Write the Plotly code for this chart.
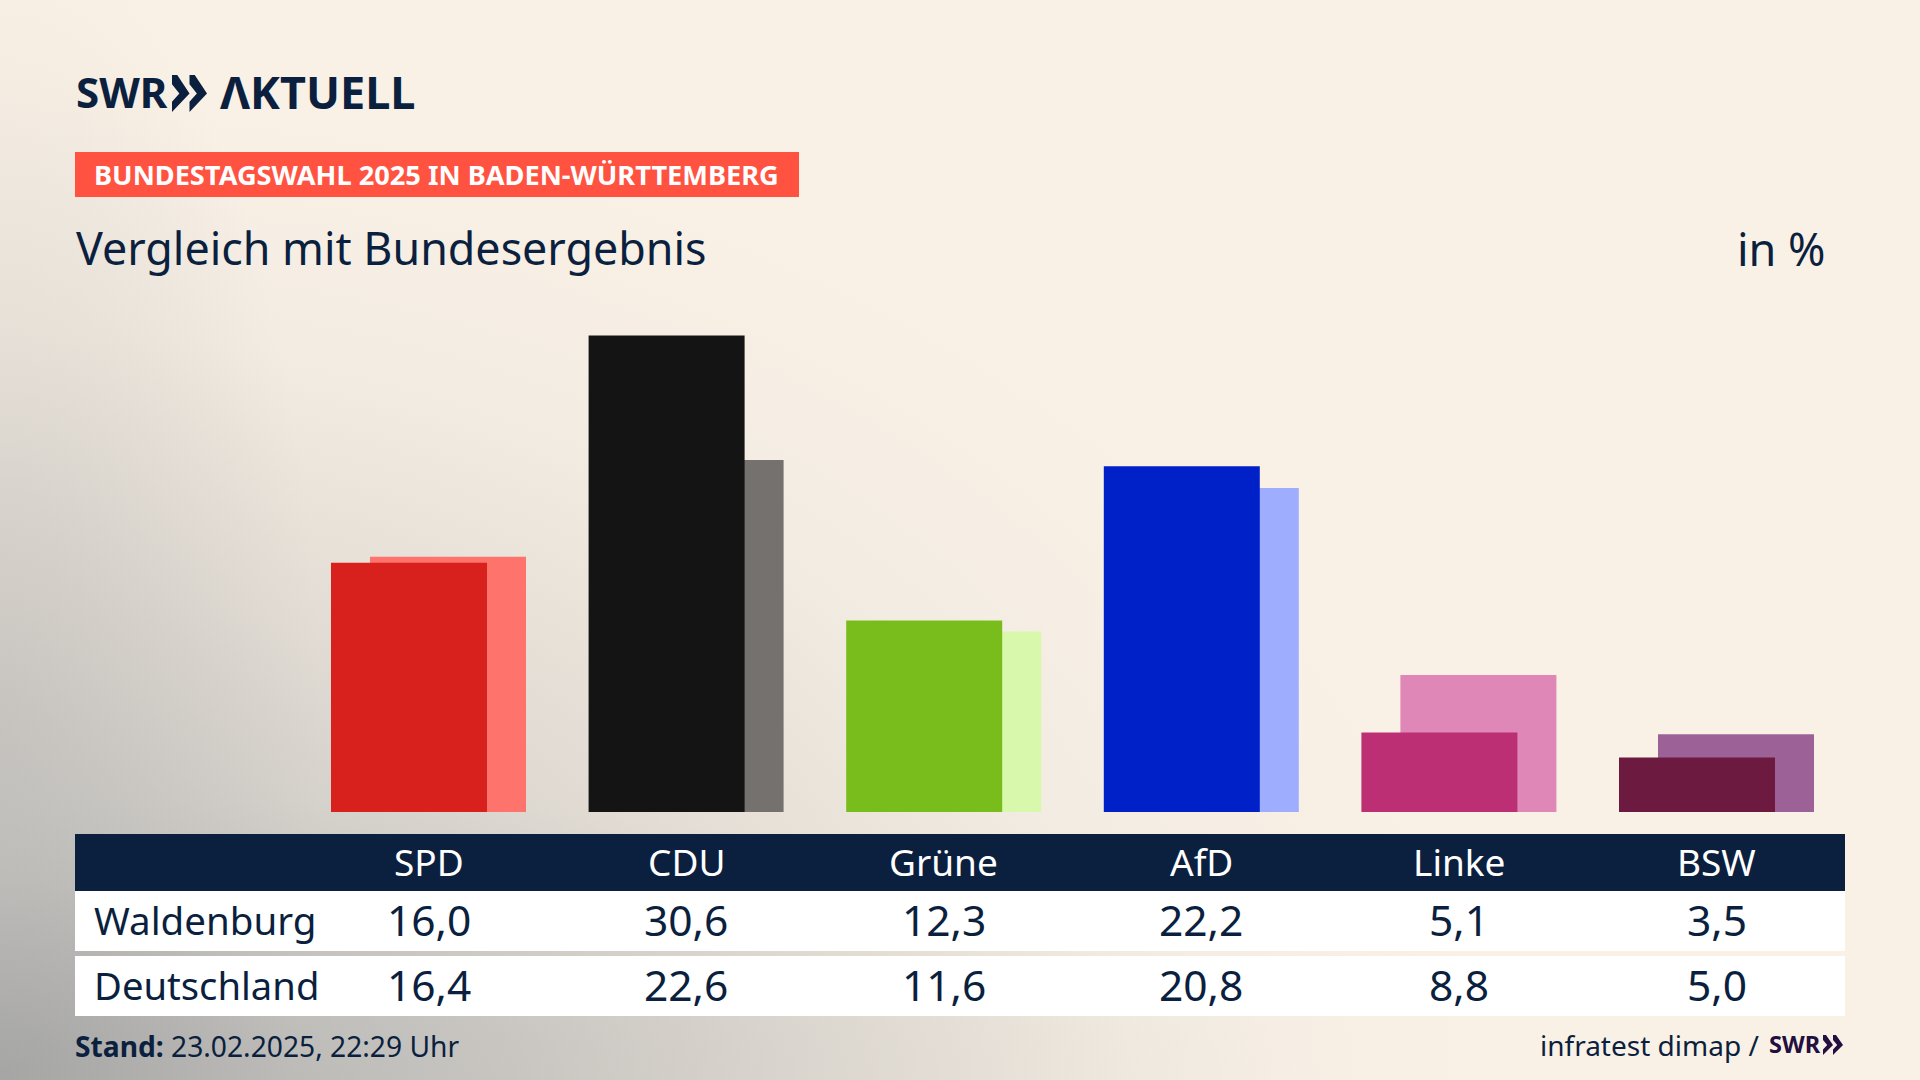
import base64
import plotly.graph_objects as go

parties = ["SPD", "CDU", "Grüne", "AfD", "Linke", "BSW"]
waldenburg = [16.0, 30.6, 12.3, 22.2, 5.1, 3.5]
deutschland = [16.4, 22.6, 11.6, 20.8, 8.8, 5.0]

colors_front = ["#d8201c", "#141414", "#79bd1c", "#0021c8", "#bc2f75", "#6c1a40"]
colors_back = ["#ff736d", "#74716e", "#d8f8ab", "#9fadff", "#df87b6", "#9c6298"]

NAVY = "#0b1f3e"
FONT = "Noto Sans"
W, H = 1920, 1080


def px(x):
    return x / W


def py(y):
    return 1 - y / H


def num(v):
    return f"{v:.1f}".replace(".", ",")


def text(s, x, y, size, color=NAVY, anchor="center", xref="paper", family=FONT):
    if xref == "paper":
        x = px(x)
    return dict(text=s, x=x, y=py(y), xref=xref, yref="paper", xanchor=anchor, yanchor="middle",
                showarrow=False, align="left", font=dict(family=family, size=size, color=color))


def rect(x0, y0, x1, y1, color):
    return dict(type="rect", xref="paper", yref="paper", x0=px(x0), x1=px(x1), y0=py(y1), y1=py(y0),
                fillcolor=color, line_width=0, layer="below")


def chevron(x, y0, y1, w, color):
    # one arrow of the swr logo
    h = y1 - y0
    mid = y0 + h / 2
    pts = [(x, y0), (x + w * 0.3, y0), (x + w, mid), (x, y1), (x, y1 - h * 0.28),
           (x + w * 0.42, mid), (x, y0 + h * 0.25)]
    path = "M" + " L".join(f"{px(a):.5f},{py(b):.5f}" for a, b in pts) + " Z"
    return dict(type="path", xref="paper", yref="paper", path=path, fillcolor=color, line_width=0)


# background: cream, grey glow from the lower left plus fades along left and bottom edge
svg = f"""<svg xmlns="http://www.w3.org/2000/svg" width="{W}" height="{H}">
<defs>
<radialGradient id="g" gradientUnits="userSpaceOnUse" cx="0" cy="0" r="1"
 gradientTransform="translate(0 {H}) scale(1500 1000)">
<stop offset="0" stop-color="#a8a8a7"/><stop offset="0.2" stop-color="#c9c7c3"/>
<stop offset="0.5" stop-color="#e2dcd4"/><stop offset="0.75" stop-color="#f3ece2"/>
<stop offset="1" stop-color="#faf1e6"/></radialGradient>
<radialGradient id="l" gradientUnits="userSpaceOnUse" cx="0" cy="0" r="1"
 gradientTransform="translate(0 720) scale(320 800)">
<stop offset="0" stop-color="#a0a0a0" stop-opacity="0.3"/>
<stop offset="1" stop-color="#a0a0a0" stop-opacity="0"/></radialGradient>
<radialGradient id="b" gradientUnits="userSpaceOnUse" cx="0" cy="0" r="1"
 gradientTransform="translate(300 {H}) scale(1000 280)">
<stop offset="0" stop-color="#a0a0a0" stop-opacity="0.3"/>
<stop offset="1" stop-color="#a0a0a0" stop-opacity="0"/></radialGradient>
</defs>
<rect width="{W}" height="{H}" fill="url(#g)"/>
<rect width="{W}" height="{H}" fill="url(#l)"/>
<rect width="{W}" height="{H}" fill="url(#b)"/></svg>"""
bg = "data:image/svg+xml;base64," + base64.b64encode(svg.encode()).decode()

fig = go.Figure()
fig.add_trace(go.Bar(x=parties, y=deutschland, name="Deutschland", marker_color=colors_back,
                     marker_line_width=0, width=0.6056, offset=-0.2271))
fig.add_trace(go.Bar(x=parties, y=waldenburg, name="Waldenburg", marker_color=colors_front,
                     marker_line_width=0, width=0.6056, offset=-0.3785))

shapes = [
    rect(75, 152, 799, 197, "#ff5240"),
    rect(75, 834, 1845, 891, NAVY),
    rect(75, 891, 1845, 951, "white"),
    rect(75, 956, 1845, 1016, "white"),
    chevron(172, 75, 112, 17.5, NAVY),
    chevron(189.5, 75, 112, 17.5, NAVY),
    chevron(1823, 1035, 1055, 10, "#230f40"),
    chevron(1833, 1035, 1055, 10, "#230f40"),
]

annotations = [
    text("<b>SWR</b>", 74, 92, 42, anchor="left"),
    text("<b>ΛKTUELL</b>", 218, 92, 45, anchor="left"),
    text("<b>BUNDESTAGSWAHL 2025 IN BADEN-WÜRTTEMBERG</b>", 92, 175, 27.2, color="white", anchor="left"),
    text("Vergleich mit Bundesergebnis", 74, 247, 44.8, anchor="left"),
    text("in %", 1828, 248, 45, anchor="right"),
    text("Waldenburg", 92, 920, 38.5, anchor="left"),
    text("Deutschland", 92, 985, 38.2, anchor="left"),
    text("<b>Stand:</b> 23.02.2025, 22:29 Uhr", 73, 1046, 28.2, anchor="left"),
    text("infratest dimap /", 1761, 1045, 28, anchor="right"),
    text("<b>SWR</b>", 1767, 1044, 23.5, color="#230f40", anchor="left"),
]
for i, party in enumerate(parties):
    annotations.append(text(party, i, 861, 37, color="white", xref="x"))
    annotations.append(text(num(waldenburg[i]), i, 919, 42.5, xref="x"))
    annotations.append(text(num(deutschland[i]), i, 984, 42.5, xref="x"))

fig.update_layout(
    width=W, height=H, margin=dict(l=0, r=0, t=0, b=0),
    paper_bgcolor="#faf1e6", plot_bgcolor="rgba(0,0,0,0)",
    barmode="overlay", showlegend=False,
    xaxis=dict(visible=False, domain=[299.7 / W, 1845.3 / W], range=[-0.5, 5.5]),
    yaxis=dict(visible=False, domain=[1 - 812 / H, 1 - 329.3 / H], range=[0, 31]),
    shapes=shapes, annotations=annotations,
    images=[dict(source=bg, xref="paper", yref="paper", x=0, y=1, sizex=1, sizey=1,
                 sizing="stretch", layer="below", xanchor="left", yanchor="top")],
)

fig.write_html("out.html", config=dict(displayModeBar=False),
               post_script="document.body.style.margin='0';")
